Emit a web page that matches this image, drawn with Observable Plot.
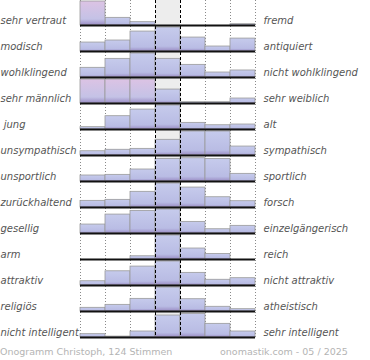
<!DOCTYPE html>
<html>
<head>
<meta charset="utf-8">
<script src="https://cdn.jsdelivr.net/npm/d3@7"></script>
<script src="https://cdn.jsdelivr.net/npm/@observablehq/plot@0.6"></script>
<style>
  body { margin: 0; background: #fff; }
  #wrap { position: relative; width: 370px; height: 360px; overflow: hidden; }
  .foot { position: absolute; top: 346px; font-family: "DejaVu Sans"; font-size: 9.5px; color: #b4b4b4; white-space: nowrap; line-height: 12px; }
</style>
</head>
<body>
<div id="wrap">
  <div id="chart"></div>
  <div class="foot" style="left:0px">Onogramm Christoph, 124 Stimmen</div>
  <div class="foot" style="left:220px">onomastik.com - 05 / 2025</div>
</div>
<script>
const leftLabels = ["sehr vertraut", "modisch", "wohlklingend", "sehr männlich", "\u00a0jung", "unsympathisch", "unsportlich", "zurückhaltend", "gesellig", "arm", "attraktiv", "religiös", "nicht intelligent"];
const rightLabels = ["fremd", "antiquiert", "nicht wohlklingend", "sehr weiblich", "alt", "sympathisch", "sportlich", "forsch", "einzelgängerisch", "reich", "nicht attraktiv", "atheistisch", "sehr intelligent"];
const columns = [1, 2, 3, 4, 5, 6, 7];
const values = [
  [62, 8.3, 3.6, 0, 0, 0, 1.4],
  [9.7, 11.9, 21.6, 26, 15.1, 5.4, 14],
  [10.5, 20.2, 26, 20.2, 13.7, 5.4, 7.6],
  [34, 36, 33, 15.1, 1.4, 1.4, 5.4],
  [2.5, 14.4, 21.6, 26, 7.2, 4.6, 5.4],
  [4.6, 6.2, 7.2, 17, 26, 26, 9.7],
  [6.5, 7.2, 13, 24.5, 25.2, 24.5, 8.3],
  [7.2, 8.3, 17, 26, 21.6, 11.1, 6.8],
  [9.7, 20.5, 24.5, 26, 12.6, 4.6, 8.3],
  [0, 0, 3.5, 26, 11.9, 5.9, 0],
  [4.6, 15.4, 20.5, 26, 13.7, 6.2, 7.9],
  [4, 7.2, 13.7, 26, 13.3, 5.1, 2.5],
  [3.6, 1, 6.5, 23.8, 25.6, 14.8, 6.5]
];
const yMax = 26;

const rows = leftLabels.map((l, i) => ({left: l, right: rightLabels[i]}));
const data = [];
leftLabels.forEach((l, i) => columns.forEach((c, j) => {
  if (values[i][j] > 0) data.push({row: l, col: c, value: values[i][j]});
}));

const svg = Plot.plot({
  width: 370,
  height: 340,
  marginLeft: 80,
  marginRight: 115,
  marginTop: 0,
  marginBottom: 2,
  style: {fontFamily: "DejaVu Sans", fontSize: "10px", background: "transparent"},
  x: {domain: [0, 7], axis: null},
  y: {domain: [0, yMax], clamp: true, axis: null, insetTop: 1, insetBottom: 1},
  fy: {domain: leftLabels, axis: null, padding: 0},
  marks: [
    Plot.rect([0], {x1: 3, x2: 4, fill: "#ededed"}),
    Plot.ruleX([0, 1, 2, 5, 6, 7], {stroke: "#8a8a8a", strokeWidth: 1, strokeDasharray: "1,2"}),
    Plot.rectY(data.filter(d => d.value <= yMax), {fy: "row", x1: d => d.col - 1, x2: d => d.col, y: "value", fill: "url(#gBlue)", stroke: "#9a9a9a", strokeWidth: 0.8}),
    Plot.rectY(data.filter(d => d.value > yMax), {fy: "row", x1: d => d.col - 1, x2: d => d.col, y: "value", fill: "url(#gPink)", stroke: "#9a9a9a", strokeWidth: 0.8}),
    Plot.ruleX([3, 4], {stroke: "#000", strokeWidth: 1, strokeDasharray: "3,2"}),
    Plot.ruleY([0], {stroke: "#111", strokeWidth: 2}),
    Plot.text(rows, {fy: "left", text: "left", frameAnchor: "bottom-left", textAnchor: "start", lineAnchor: "middle", dx: -80, dy: -6, fill: "#555", fontStyle: "italic", fontSize: 10}),
    Plot.text(rows, {fy: "left", text: "right", frameAnchor: "bottom-right", textAnchor: "start", lineAnchor: "middle", dx: 8, dy: -6, fill: "#555", fontStyle: "italic", fontSize: 10})
  ]
});

svg.insertAdjacentHTML("afterbegin", `
<defs>
  <linearGradient id="gBlue" x1="0" y1="0" x2="0" y2="1">
    <stop offset="0%" stop-color="#c6cbec"/>
    <stop offset="80%" stop-color="#b9bce4"/>
    <stop offset="100%" stop-color="#9a8cc4"/>
  </linearGradient>
  <linearGradient id="gPink" x1="0" y1="0" x2="0" y2="1">
    <stop offset="0%" stop-color="#dcc3e4"/>
    <stop offset="75%" stop-color="#c4c2e6"/>
    <stop offset="100%" stop-color="#9a8cc4"/>
  </linearGradient>
</defs>`);

document.getElementById("chart").appendChild(svg);
</script>
</body>
</html>
